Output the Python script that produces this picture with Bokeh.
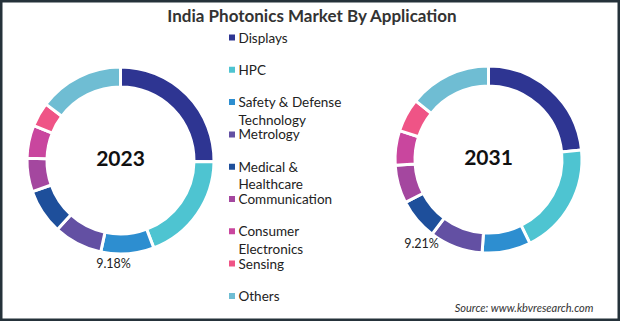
import numpy as np
from bokeh.plotting import figure
from bokeh.models import Range1d, ColumnDataSource
from bokeh.core.properties import value
from bokeh.embed import file_html
from bokeh.resources import INLINE

W, H = 620, 321

categories = ["Displays", "HPC", "Safety & Defense\nTechnology", "Metrology",
              "Medical &\nHealthcare", "Communication", "Consumer\nElectronics",
              "Sensing", "Others"]
colors = ["#2E3592", "#4EC4D1", "#2D8ED0", "#6350A3", "#1E4F9B",
          "#A4479F", "#C9469E", "#EF5486", "#6FBDD3"]
share_2023 = [25.2, 19.0, 9.18, 8.4, 7.8, 5.8, 5.7, 4.2, 14.7]
share_2031 = [23.4, 19.3, 8.4, 9.21, 7.1, 6.6, 6.0, 5.8, 14.2]
years = ["2023", "2031"]
labelled = [2, 3]  # index of the segment whose value is printed

title = "India Photonics Market By Application"
source_note = "Source: www.kbvresearch.com"

p = figure(width=W, height=H, output_backend="svg", toolbar_location=None,
           x_range=Range1d(0, W), y_range=Range1d(0, H), min_border=0)
p.axis.visible = False
p.grid.visible = False
p.outline_line_color = "#25323A"
p.outline_line_width = 4
p.background_fill_color = "white"
p.border_fill_color = "white"

def Y(y):
    return H - y

centers = [(120, 160), (488, 159)]
R_OUT, R_IN = 93.5, 73.5
label_pos = [(113, 263), (421, 243)]

for k, (vals, (cx, cy)) in enumerate(zip([share_2023, share_2031], centers)):
    v = np.array(vals, dtype=float)
    frac = v / v.sum()
    ends = np.cumsum(frac) * 2 * np.pi
    starts = ends - frac * 2 * np.pi
    src = ColumnDataSource(dict(
        start=np.pi / 2 - starts, end=np.pi / 2 - ends, color=colors,
        x=[cx] * len(v), y=[Y(cy)] * len(v)))
    p.annular_wedge(x="x", y="y", inner_radius=R_IN, outer_radius=R_OUT,
                    start_angle="start", end_angle="end", direction="clock",
                    fill_color="color", line_color="white", line_width=3,
                    source=src)
    p.text(x=[cx], y=[Y(cy - 2)], text=[years[k]], text_font=value("Lato"),
           text_font_style="bold", text_font_size="21px", text_align="center",
           text_baseline="middle", text_color="#111111")
    i = labelled[k]
    lx, ly = label_pos[k]
    p.text(x=[lx], y=[Y(ly)], text=[f"{vals[i]:.2f}%"], text_font=value("Lato"),
           text_font_size="12.5px", text_align="center", text_baseline="middle",
           text_color="#222222")

# legend
lx0, ly0, step = 231.5, 37, 32.3
sq_x, sq_y, tx, ty, tt = [], [], [], [], []
for i, name in enumerate(categories):
    y = ly0 + i * step
    sq_x.append(lx0)
    sq_y.append(Y(y))
    for j, line in enumerate(name.split("\n")):
        tx.append(238)
        ty.append(Y(y + j * 17.5))
        tt.append(line)
p.rect(x=sq_x, y=sq_y, width=6, height=6, fill_color=colors, line_color=None)
p.text(x=tx, y=ty, text=tt, text_font=value("Lato"), text_font_size="13.5px",
       text_baseline="middle", text_align="left", text_color="#222222")

p.text(x=[312], y=[Y(15)], text=[title], text_font=value("Lato"),
       text_font_style="bold", text_font_size="17px", text_align="center",
       text_baseline="middle", text_color="#333333")
p.text(x=[593], y=[Y(307)], text=[source_note], text_font=value("Lato"),
       text_font_style="italic", text_font_size="11px", text_align="right",
       text_baseline="middle", text_color="#333333")

open("out.html", "w").write(file_html(p, INLINE))
